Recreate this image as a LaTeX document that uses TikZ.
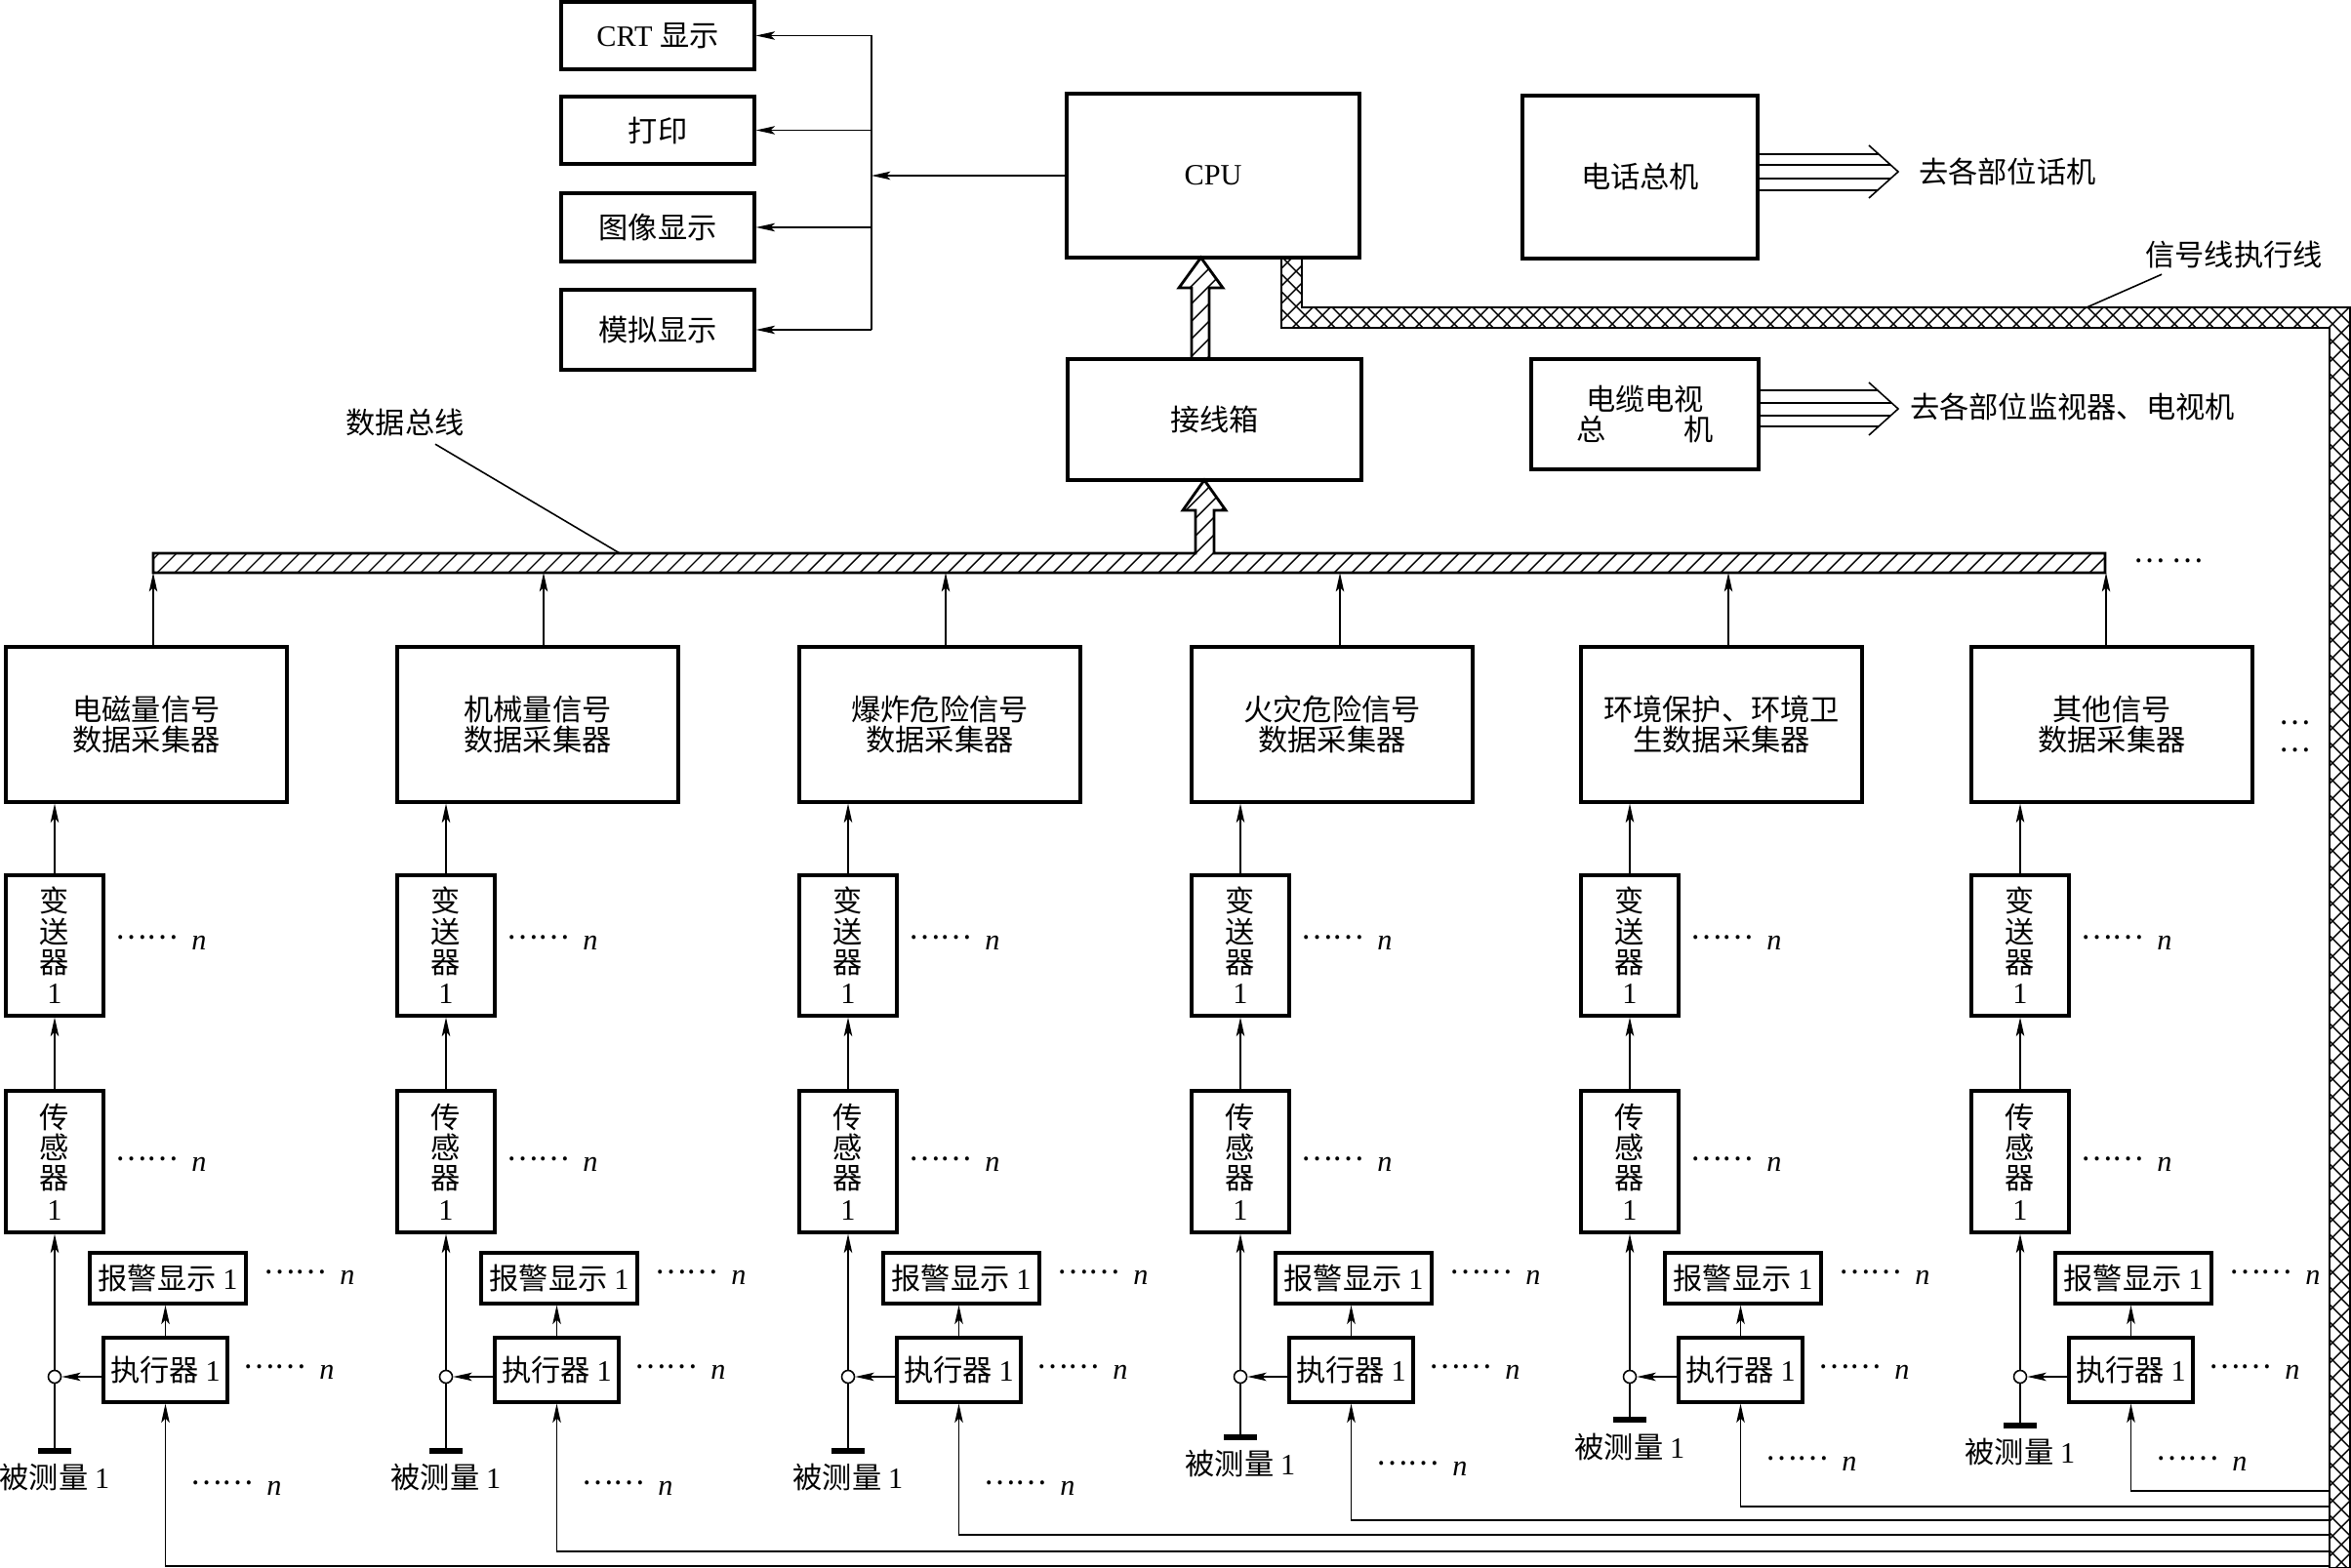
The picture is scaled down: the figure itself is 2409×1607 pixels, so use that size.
\documentclass[tikz,border=0pt]{standalone}
\usepackage{fontspec}
\setmainfont{Liberation Serif}
\newfontfamily\cjk{Noto Sans CJK SC}
\usetikzlibrary{arrows.meta}
\newcommand\dn{\raisebox{3.2pt}{\cjk ……}\hspace{4pt}{\rmfamily\itshape n}}
\begin{document}
\begin{tikzpicture}[x=0.01cm,y=-0.01cm,
  every node/.style={font=\cjk\fontsize{8.6}{9}\selectfont, inner sep=1pt},
  box/.style={draw, line width=0.9pt, inner sep=0pt, align=center},
  sz/.style 2 args={minimum width=#1*0.01cm, minimum height=#2*0.01cm},
  arr/.style={line width=0.45pt, -{Stealth[length=5.5pt,width=2.4pt,inset=1.2pt]}},
  ln/.style={line width=0.45pt},
  hat/.style={line width=0.4pt},
  outl/.style={line width=0.8pt},
]
\fill[white] (0,0) rectangle (2409,1607);
\useasboundingbox (0,0) rectangle (2409,1607);

% ---------- top: outputs and CPU ----------
\node[box, sz={198}{69}] (crt) at (674,36.5) {\rmfamily CRT \cjk 显示};
\node[box, sz={198}{69}] (prn) at (674,133.5) {打印};
\node[box, sz={198}{70}] (img) at (674,233) {图像显示};
\node[box, sz={198}{82}] (sim) at (674,338) {模拟显示};
\node[box, sz={300}{168}] (cpu) at (1243,180) {\rmfamily CPU};
\coordinate (vx) at (893,180);
\draw[arr] (cpu.west) -- (vx);
\draw[ln] (vx |- crt.east) -- (vx |- sim.east);
\foreach \b in {crt,prn,img,sim} \draw[arr] (vx |- \b.east) -- (\b.east);

\node[box, sz={301}{124}] (jxx) at (1244.5,430) {接线箱};
\node[box, sz={241}{167}] (tel) at (1680.5,181.5) {电话总机};
\node[box, sz={233}{113}, text width=4em] (catv) at (1685.5,424.5) {电缆电视\\总\hfill 机};

% telephone multi-lines
\coordinate (t1) at (1925,158); \coordinate (t2) at (1937,169);
\coordinate (t3) at (1937,183); \coordinate (t4) at (1924,195);
\foreach \t in {t1,t2,t3,t4} \draw[ln] (tel.east |- \t) -- (\t);
\draw[ln] (1915,149) -- (1945,176) -- (1915,203);
\node[anchor=west] (teltxt) at (1962,176) {去各部位话机};

\coordinate (c1) at (1924,400); \coordinate (c2) at (1938,413);
\coordinate (c3) at (1937,426); \coordinate (c4) at (1925,437);
\foreach \t in {c1,c2,c3,c4} \draw[ln] (catv.east |- \t) -- (\t);
\draw[ln] (1915,392) -- (1945,419) -- (1915,446);
\node[anchor=west] (catvtxt) at (1953,417) {去各部位监视器、电视机};

% ---------- hatched arrow jxx -> cpu ----------
\begin{scope}
\clip (1221,367) -- (1221,295) -- (1208,295) -- (1230.5,263) -- (1253,295) -- (1239,295) -- (1239,367) -- cycle;
\foreach \c in {1460,1478,...,1640} \draw[hat] ({\c-380},380) -- ({\c-250},250);
\end{scope}
\draw[outl] (1221,368) -- (1221,295) -- (1208,295) -- (1230.5,264) -- (1253,295) -- (1239,295) -- (1239,368);

% ---------- data bus with arrow to jxx ----------
\begin{scope}
\clip (157,587) -- (157,567) -- (1225,567) -- (1225,523) -- (1212,523) -- (1234,492) -- (1256,523) -- (1244,523) -- (1244,567) -- (2157,567) -- (2157,587) -- cycle;
\foreach \c in {640,658,...,2760} \draw[hat] ({\c-600},600) -- ({\c-480},480);
\end{scope}
\draw[outl] (157,587) -- (157,567) -- (1225,567) -- (1225,523) -- (1212,523) -- (1234,492) -- (1256,523) -- (1244,523) -- (1244,567) -- (2157,567) -- (2157,587) -- cycle;
\node (bdots) at (2222,575) {…\hspace{2pt}…};

\node (dbl) at (415,433) {数据总线};
\coordinate (dbp) at (635,567);
\draw[ln] (dbl.south) ++(31,4) -- (dbp);

% ---------- cross-hatched signal / actuator line ----------
\begin{scope}
\clip (1313,264) -- (1313,336) -- (2387,336) -- (2387,1607) -- (2408,1607) -- (2408,315) -- (1334,315) -- (1334,264) -- cycle;
\foreach \c in {1570,1588,...,4030} \draw[hat] ({\c-1620},1620) -- ({\c-250},250);
\foreach \c in {-300,-282,...,2160} \draw[hat] ({\c+250},250) -- ({\c+1620},1620);
\end{scope}
\draw[outl] (1313,264) -- (1313,336) -- (2387,336) -- (2387,1607) -- (2408,1607) -- (2408,315) -- (1334,315) -- (1334,264);
\node (sigl) at (2289,261) {信号线执行线};
\coordinate (sigp) at (2136,316);
\draw[ln] (sigl.south west) ++(21,2) -- (sigp);

% ---------- columns ----------
\foreach \i/\xo/\gy/\ly/\qy/\ry/\bx/\txt in {
 1/6/1487/1514/1522/1605/157/{电磁量信号\\数据采集器},
 2/407/1487/1514/1522/1590/557/{机械量信号\\数据采集器},
 3/819/1487/1514/1522/1573/969/{爆炸危险信号\\数据采集器},
 4/1221/1473/1500/1502/1558/1373/{火灾危险信号\\数据采集器},
 5/1620/1455/1483/1497/1544/1771/{环境保护、环境卫\\生数据采集器},
 6/2020/1461/1488/1497/1528/2158/{其他信号\\数据采集器}}{
  \node[box, sz={288}{159}] (col\i) at ({\xo+144},742.5) {\txt};
  \node[box, sz={100}{144}, font=\cjk\fontsize{8.6}{8.9}\selectfont] (tx\i) at ({\xo+50},969) {变\\送\\器\\\rmfamily 1};
  \node[box, sz={100}{145}, font=\cjk\fontsize{8.6}{8.9}\selectfont] (sn\i) at ({\xo+50},1190.5) {传\\感\\器\\\rmfamily 1};
  \node[box, sz={160}{52}] (al\i) at ({\xo+166},1310) {报警显示 \rmfamily 1};
  \node[box, sz={127}{66}] (ex\i) at ({\xo+163.5},1404) {执行器 \rmfamily 1};
  \coordinate (gnd\i) at ({\xo+50},\gy);
  \draw[line width=1.5pt] ({\xo+33},\gy) -- ({\xo+67},\gy);
  \draw[arr] (gnd\i) -- (sn\i.south);
  \node[draw, circle, line width=0.45pt, fill=white, inner sep=0pt, minimum size=0.13cm] (cir\i) at ({\xo+50},1411) {};
  \draw[arr] (ex\i.west |- cir\i) -- (cir\i.east);
  \draw[arr] (ex\i.north) -- (ex\i.north |- al\i.south);
  \draw[arr] (sn\i.north) -- (tx\i.south);
  \draw[arr] (tx\i.north) -- (tx\i.north |- col\i.south);
  \coordinate (bt\i) at (\bx,587);
  \draw[arr] (bt\i |- col\i.north) -- (bt\i);
  \coordinate (rt\i) at (2387,\ry);
  \draw[arr] (rt\i) -| (ex\i.south);
  \node (lb\i) at ({\xo+50},\ly) {被测量 \rmfamily 1};
  \node[anchor=west] (da\i) at ({\xo+108},966) {\dn};
  \node[anchor=west] (db\i) at ({\xo+108},1193) {\dn};
  \node[anchor=west] (dc\i) at ({\xo+260},1309) {\dn};
  \node[anchor=west] (dd\i) at ({\xo+239},1406) {\dn};
  \node[anchor=west] (de\i) at ({\xo+185},{\qy+3}) {\dn};
}
\node (vd1) at (2351,741) {…};
\node (vd2) at (2351,769) {…};
\end{tikzpicture}
\end{document}
